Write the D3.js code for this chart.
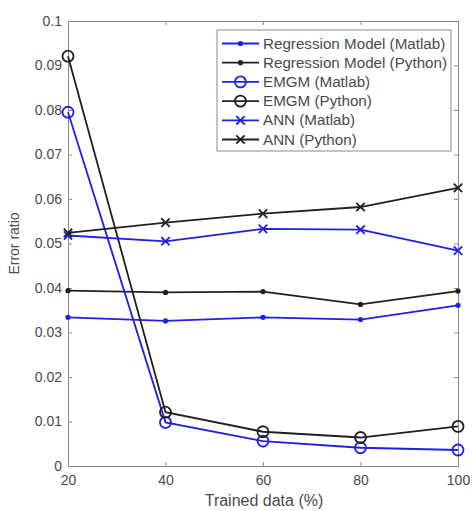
<!DOCTYPE html>
<html><head><meta charset="utf-8">
<script src="https://cdn.jsdelivr.net/npm/d3@7"></script>
<style>body{margin:0;background:#fff}svg{display:block}</style>
</head><body>
<svg id="c" width="472" height="511"></svg>
<script>
const xValues = [20, 40, 60, 80, 100];
const xTicks = [20, 40, 60, 80, 100];
const yTicks = [0, 0.01, 0.02, 0.03, 0.04, 0.05, 0.06, 0.07, 0.08, 0.09, 0.1];
const seriesNames = ["Regression Model (Matlab)", "Regression Model (Python)", "EMGM (Matlab)", "EMGM (Python)", "ANN (Matlab)", "ANN (Python)"];
const regMatlab = [0.0334, 0.0326, 0.0334, 0.0329, 0.0361];
const regPython = [0.0394, 0.0390, 0.0392, 0.0363, 0.0393];
const emgmMatlab = [0.0795, 0.0098, 0.0056, 0.0041, 0.0036];
const emgmPython = [0.0921, 0.0121, 0.0077, 0.0064, 0.0089];
const annMatlab = [0.0518, 0.0505, 0.0533, 0.0531, 0.0484];
const annPython = [0.0524, 0.0547, 0.0567, 0.0582, 0.0625];

const BLUE = "#1f1fe6", BLACK = "#202020";
const series = [
  {name: seriesNames[0], values: regMatlab, color: BLUE, marker: "dot"},
  {name: seriesNames[1], values: regPython, color: BLACK, marker: "dot"},
  {name: seriesNames[2], values: emgmMatlab, color: BLUE, marker: "circle"},
  {name: seriesNames[3], values: emgmPython, color: BLACK, marker: "circle"},
  {name: seriesNames[4], values: annMatlab, color: BLUE, marker: "x"},
  {name: seriesNames[5], values: annPython, color: BLACK, marker: "x"}
];

const svg = d3.select("#c");
const L = 68, R = 458, T = 21, B = 466;
const x = d3.scaleLinear().domain([20, 100]).range([L, R]);
const y = d3.scaleLinear().domain([0, 0.1]).range([B, T]);
const axisColor = "#8a8a8a", textColor = "#4a4a4a";
const font = "'Liberation Sans', Arial, sans-serif";

// axes
const gx = svg.append("g").attr("transform", `translate(0,${B})`)
  .call(d3.axisBottom(x).tickValues(xTicks).tickSize(-4).tickPadding(9).tickFormat(d3.format("d")));
const gy = svg.append("g").attr("transform", `translate(${L},0)`)
  .call(d3.axisLeft(y).tickValues(yTicks).tickSize(-4).tickPadding(6).tickFormat(d => d === 0 ? "0" : d3.format("")(+d.toFixed(2))));
const gxt = svg.append("g").attr("transform", `translate(0,${T})`)
  .call(d3.axisTop(x).tickValues(xTicks).tickSize(-4).tickFormat(""));
const gyr = svg.append("g").attr("transform", `translate(${R},0)`)
  .call(d3.axisRight(y).tickValues(yTicks).tickSize(-4).tickFormat(""));
[gx, gy, gxt, gyr].forEach(g => {
  g.selectAll("path.domain").attr("stroke", axisColor).attr("stroke-width", 1);
  g.selectAll(".tick line").attr("stroke", axisColor);
  g.selectAll(".tick text").attr("fill", textColor).attr("font-family", font).attr("font-size", 14);
});

svg.append("text").attr("x", 264).attr("y", 506).attr("text-anchor", "middle")
  .attr("font-family", font).attr("font-size", 16).attr("fill", textColor).text("Trained data (%)");
svg.append("text").attr("transform", `translate(19,${(T + B) / 2}) rotate(-90)`).attr("text-anchor", "middle")
  .attr("font-family", font).attr("font-size", 14).attr("fill", textColor).text("Error ratio");

function drawMarker(g, type, cx, cy, color) {
  if (type === "dot") {
    g.append("circle").attr("cx", cx).attr("cy", cy).attr("r", 2.6).attr("fill", color);
  } else if (type === "circle") {
    g.append("circle").attr("cx", cx).attr("cy", cy).attr("r", 5.5).attr("fill", "none").attr("stroke", color).attr("stroke-width", 1.8);
  } else {
    const s = 4.2;
    g.append("path").attr("d", `M${cx - s},${cy - s}L${cx + s},${cy + s}M${cx - s},${cy + s}L${cx + s},${cy - s}`)
      .attr("stroke", color).attr("stroke-width", 1.8);
  }
}

const line = d3.line().x((d, i) => x(xValues[i])).y(d => y(d));
const plot = svg.append("g");
series.forEach(s => {
  const g = plot.append("g");
  g.append("path").attr("d", line(s.values)).attr("fill", "none").attr("stroke", s.color).attr("stroke-width", 1.8);
  s.values.forEach((v, i) => drawMarker(g, s.marker, x(xValues[i]), y(v), s.color));
});

// legend
const lg = svg.append("g");
const lx0 = 217, ly0 = 30, lw = 234, lh = 121;
lg.append("rect").attr("x", lx0).attr("y", ly0).attr("width", lw).attr("height", lh)
  .attr("fill", "#fff").attr("stroke", "#8a8a8a").attr("stroke-width", 1);
series.forEach((s, i) => {
  const yy = ly0 + 13.5 + i * 19.2;
  lg.append("line").attr("x1", lx0 + 5).attr("x2", lx0 + 42).attr("y1", yy).attr("y2", yy)
    .attr("stroke", s.color).attr("stroke-width", 1.8);
  drawMarker(lg, s.marker, lx0 + 23.5, yy, s.color);
  lg.append("text").attr("x", lx0 + 46).attr("y", yy + 5).attr("font-family", font).attr("font-size", 15.2)
    .attr("fill", textColor).text(s.name);
});
</script>
</body></html>
